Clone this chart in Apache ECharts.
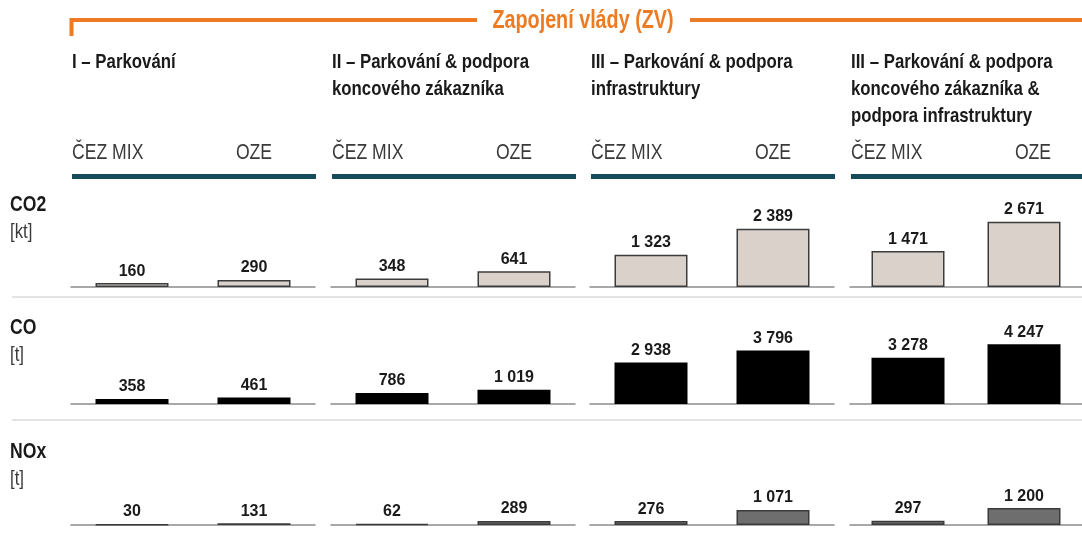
<!DOCTYPE html>
<html>
<head>
<meta charset="utf-8">
<script src="https://cdn.jsdelivr.net/npm/echarts@6/dist/echarts.min.js"></script>
<style>html,body{margin:0;padding:0;background:#fff}#c{width:1082px;height:536px}</style>
</head>
<body>
<div id="c"></div>
<script>
// ---- data ----
const topTitle = 'Zapojení vlády (ZV)';
const scenarios = [
  'I – Parkování',
  'II – Parkování & podpora\nkoncového zákazníka',
  'III – Parkování & podpora\ninfrastruktury',
  'III – Parkování & podpora\nkoncového zákazníka &\npodpora infrastruktury'
];
const mixes = ['ČEZ MIX', 'OZE'];
const pollutants = ['CO2', 'CO', 'NOx'];
const units = ['[kt]', '[t]', '[t]'];
const co2Mix = [160, 348, 1323, 1471];
const co2Oze = [290, 641, 2389, 2671];
const coMix = [358, 786, 2938, 3278];
const coOze = [461, 1019, 3796, 4247];
const noxMix = [30, 62, 276, 297];
const noxOze = [131, 289, 1071, 1200];

// ---- layout ----
const FONT = "'Liberation Sans',Arial,sans-serif";
const NARROW = 0.8;
const colLeft = [71, 331, 590, 850];
const colWidth = 244;
const rowTop = [207, 324, 445];
const rowHeight = 80;
const rowMax = [3280, 5680, 5680];
const rowData = [[co2Mix, co2Oze], [coMix, coOze], [noxMix, noxOze]];
const rowStyle = [
  { color: '#d9d1ca', borderColor: '#3c3c3c', borderWidth: 1.5 },
  { color: '#000000', borderColor: '#000000', borderWidth: 0 },
  { color: '#6e6e6e', borderColor: '#3a3a3a', borderWidth: 1.5 }
];
const fmt = v => String(v).replace(/\B(?=(\d{3})+(?!\d))/g, ' ');

const grid = [], xAxis = [], yAxis = [], series = [];
let idx = 0;
for (let r = 0; r < 3; r++) {
  for (let c = 0; c < 4; c++) {
    grid.push({ left: colLeft[c], top: rowTop[r], width: colWidth, height: rowHeight });
    xAxis.push({
      gridIndex: idx, type: 'category', data: mixes,
      axisLine: { show: true, lineStyle: { color: '#8c8c8c', width: 1.5 } },
      axisTick: { show: false }, axisLabel: { show: false }, splitLine: { show: false }
    });
    yAxis.push({
      gridIndex: idx, type: 'value', min: 0, max: rowMax[r], show: false, splitLine: { show: false }
    });
    series.push({
      type: 'bar', xAxisIndex: idx, yAxisIndex: idx, barWidth: 73,
      data: [rowData[r][0][c], rowData[r][1][c]],
      itemStyle: rowStyle[r],
      label: {
        show: true, position: 'top', distance: 4,
        fontFamily: FONT, fontWeight: 'bold', fontSize: 16, color: '#1a1a1a',
        formatter: p => fmt(p.value)
      },
      silent: true, animation: false
    });
    idx++;
  }
}

function txt(x, y, text, font, fill, align, valign, lineHeight, sx) {
  return { type: 'text', x, y, scaleX: sx || NARROW,
    style: { x: 0, y: 0, text, font: font + ' ' + FONT, fill, align, verticalAlign: valign, lineHeight } };
}

const graphic = [];
// orange bracket
graphic.push({ type: 'polyline', shape: { points: [[71.5, 36], [71.5, 20], [477, 20]] },
  style: { stroke: '#ee7a22', lineWidth: 4, fill: null } });
graphic.push({ type: 'line', shape: { x1: 690, y1: 20, x2: 1082, y2: 20 },
  style: { stroke: '#ee7a22', lineWidth: 4 } });
graphic.push(txt(583, 21, topTitle, 'bold 25px', '#ee7a22', 'center', 'middle', 30, 0.79));
// column headers
for (let c = 0; c < 4; c++) {
  graphic.push(txt(colLeft[c] + 1, 49, scenarios[c], 'bold 21px', '#1a1a1a', 'left', 'top', 27, 0.8));
  graphic.push(txt(colLeft[c] + 1, 153, mixes[0], '22px', '#3a3a3a', 'left', 'middle', 24, 0.8));
  graphic.push(txt(colLeft[c] + colWidth * 0.75, 153, mixes[1], '22px', '#3a3a3a', 'center', 'middle', 24, 0.8));
  graphic.push({ type: 'rect', shape: { x: colLeft[c] + 1, y: 174, width: colWidth, height: 5 },
    style: { fill: '#164b5c' } });
}
// row labels
const rowLabelY = [205, 328, 452];
for (let r = 0; r < 3; r++) {
  graphic.push(txt(10, rowLabelY[r], pollutants[r], 'bold 22px', '#1a1a1a', 'left', 'middle', 24, 0.8));
  graphic.push(txt(10, rowLabelY[r] + 27, units[r], '21px', '#3a3a3a', 'left', 'middle', 24, 0.8));
}
// separators
[297, 420].forEach(y => graphic.push({ type: 'line', shape: { x1: 12, y1: y, x2: 1082, y2: y },
  style: { stroke: '#e3e3e3', lineWidth: 2 } }));

const chart = echarts.init(document.getElementById('c'), null, { renderer: 'canvas' });
chart.setOption({ animation: false, backgroundColor: '#ffffff', grid, xAxis, yAxis, series, graphic });
</script>
</body>
</html>
